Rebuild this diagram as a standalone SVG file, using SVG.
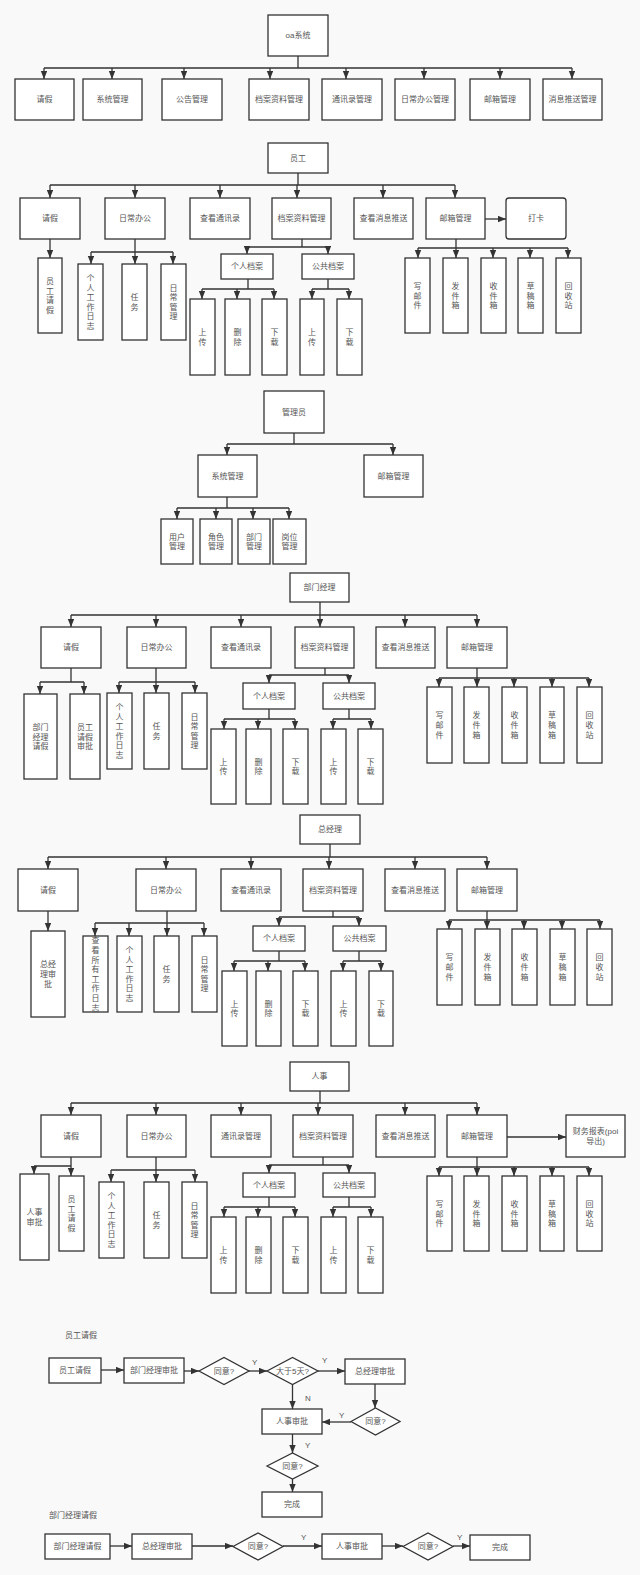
<svg xmlns="http://www.w3.org/2000/svg" width="640" height="1575" viewBox="0 0 640 1575">
<style>
.b{fill:#fff;stroke:#333;stroke-width:1.3}
.t{font-family:"Liberation Sans","Noto Sans CJK SC",sans-serif;font-size:8px;fill:#555;text-anchor:middle;dominant-baseline:central}
.l{font-family:"Liberation Sans","Noto Sans CJK SC",sans-serif;font-size:8px;fill:#555;dominant-baseline:central}
.c{fill:none;stroke:#333;stroke-width:1.3}
.a{fill:none;stroke:#333;stroke-width:1.3;marker-end:url(#ar)}
</style>
<defs>
<marker id="ar" markerWidth="8" markerHeight="7" refX="8" refY="3.2" orient="auto" markerUnits="userSpaceOnUse"><path d="M0,0 L8,3.2 L0,6.4 z" fill="#333"/></marker>
</defs>
<rect x="0" y="0" width="640" height="1575" fill="#f9f9f9"/>

<g id="connectors">
<!-- section 1 -->
<path class="c" d="M298,56 V68 M44,68 H572"/>
<path class="a" d="M44,68 V79"/><path class="a" d="M112,68 V79"/><path class="a" d="M184,68 V79"/><path class="a" d="M270,68 V79"/>
<path class="a" d="M346,68 V79"/><path class="a" d="M424,68 V79"/><path class="a" d="M500,68 V79"/><path class="a" d="M572,68 V79"/>
<!-- section 2 -->
<path class="c" d="M298,173 V185 M50,185 H455"/>
<path class="a" d="M50,185 V198"/><path class="a" d="M135,185 V198"/><path class="a" d="M220,185 V198"/><path class="a" d="M297,185 V198"/><path class="a" d="M383,185 V198"/><path class="a" d="M455,185 V198"/>
<path class="a" d="M485,219 H506"/>
<path class="a" d="M50,239 V258"/>
<path class="c" d="M135,239 V252 M91,252 H173"/>
<path class="a" d="M91,252 V264"/><path class="a" d="M135,252 V264"/><path class="a" d="M173,252 V264"/>
<path class="c" d="M302,239 V247 M247,247 H328"/>
<path class="a" d="M247,247 V254"/><path class="a" d="M328,247 V254"/>
<path class="c" d="M248,279 V289 M202,289 H274"/>
<path class="a" d="M202,289 V299"/><path class="a" d="M237,289 V299"/><path class="a" d="M274,289 V299"/>
<path class="c" d="M328,279 V289 M312,289 H349"/>
<path class="a" d="M312,289 V299"/><path class="a" d="M349,289 V299"/>
<path class="c" d="M456,239 V248 M418,248 H568"/>
<path class="a" d="M418,248 V258"/><path class="a" d="M456,248 V258"/><path class="a" d="M493,248 V258"/><path class="a" d="M530,248 V258"/><path class="a" d="M568,248 V258"/>
<!-- section 3 -->
<path class="c" d="M294,433 V444 M227,444 H393"/>
<path class="a" d="M227,444 V455"/><path class="a" d="M393,444 V455"/>
<path class="c" d="M227,497 V508 M177,508 H289"/>
<path class="a" d="M177,508 V519"/><path class="a" d="M216,508 V519"/><path class="a" d="M253,508 V519"/><path class="a" d="M289,508 V519"/>
<!-- section 4 -->
<path class="c" d="M320,602 V615 M71,615 H477"/>
<path class="a" d="M71,615 V627"/><path class="a" d="M156,615 V627"/><path class="a" d="M241,615 V627"/><path class="a" d="M320,615 V627"/><path class="a" d="M405,615 V627"/><path class="a" d="M477,615 V627"/>
<path class="c" d="M71,668 V682 M40,682 H84"/>
<path class="a" d="M40,682 V694"/><path class="a" d="M84,682 V694"/>
<path class="c" d="M156,668 V682 M119,682 H195"/>
<path class="a" d="M119,682 V693"/><path class="a" d="M156,682 V693"/><path class="a" d="M195,682 V693"/>
<path class="c" d="M325,668 V675 M269,675 H349"/>
<path class="a" d="M269,675 V683"/><path class="a" d="M349,675 V683"/>
<path class="c" d="M269,709 V719 M224,719 H295"/>
<path class="a" d="M224,719 V729"/><path class="a" d="M258,719 V729"/><path class="a" d="M295,719 V729"/>
<path class="c" d="M349,709 V719 M333,719 H371"/>
<path class="a" d="M333,719 V729"/><path class="a" d="M371,719 V729"/>
<path class="c" d="M477,668 V678 M439,678 H589"/>
<path class="a" d="M439,678 V687"/><path class="a" d="M477,678 V687"/><path class="a" d="M514,678 V687"/><path class="a" d="M552,678 V687"/><path class="a" d="M589,678 V687"/>
<!-- section 5 -->
<path class="c" d="M330,844 V857 M48,857 H487"/>
<path class="a" d="M48,857 V869"/><path class="a" d="M166,857 V869"/><path class="a" d="M251,857 V869"/><path class="a" d="M329,857 V869"/><path class="a" d="M415,857 V869"/><path class="a" d="M487,857 V869"/>
<path class="a" d="M48,911 V931"/>
<path class="c" d="M167,911 V923 M95,923 H204"/>
<path class="a" d="M95,923 V936"/><path class="a" d="M129,923 V936"/><path class="a" d="M167,923 V936"/><path class="a" d="M204,923 V936"/>
<path class="c" d="M333,911 V917 M279,917 H359"/>
<path class="a" d="M279,917 V926"/><path class="a" d="M359,917 V926"/>
<path class="c" d="M279,951 V961 M234,961 H305"/>
<path class="a" d="M234,961 V971"/><path class="a" d="M268,961 V971"/><path class="a" d="M305,961 V971"/>
<path class="c" d="M359,951 V961 M343,961 H381"/>
<path class="a" d="M343,961 V971"/><path class="a" d="M381,961 V971"/>
<path class="c" d="M487,911 V920 M449,920 H600"/>
<path class="a" d="M449,920 V929"/><path class="a" d="M487,920 V929"/><path class="a" d="M524,920 V929"/><path class="a" d="M562,920 V929"/><path class="a" d="M600,920 V929"/>
<!-- section 6 -->
<path class="c" d="M320,1091 V1103 M71,1103 H477"/>
<path class="a" d="M71,1103 V1115"/><path class="a" d="M156,1103 V1115"/><path class="a" d="M241,1103 V1115"/><path class="a" d="M318,1103 V1115"/><path class="a" d="M405,1103 V1115"/><path class="a" d="M477,1103 V1115"/>
<path class="a" d="M507,1137 H566"/>
<path class="c" d="M71,1157 V1166 M34,1166 H71"/>
<path class="a" d="M34,1166 V1174"/><path class="a" d="M71,1166 V1176"/>
<path class="c" d="M156,1157 V1170 M111,1170 H195"/>
<path class="a" d="M111,1170 V1182"/><path class="a" d="M156,1170 V1182"/><path class="a" d="M195,1170 V1182"/>
<path class="c" d="M323,1157 V1165 M269,1165 H349"/>
<path class="a" d="M269,1165 V1173"/><path class="a" d="M349,1165 V1173"/>
<path class="c" d="M269,1197 V1207 M224,1207 H295"/>
<path class="a" d="M224,1207 V1217"/><path class="a" d="M258,1207 V1217"/><path class="a" d="M295,1207 V1217"/>
<path class="c" d="M349,1197 V1207 M333,1207 H371"/>
<path class="a" d="M333,1207 V1217"/><path class="a" d="M371,1207 V1217"/>
<path class="c" d="M477,1157 V1167 M439,1167 H589"/>
<path class="a" d="M439,1167 V1176"/><path class="a" d="M477,1167 V1176"/><path class="a" d="M514,1167 V1176"/><path class="a" d="M552,1167 V1176"/><path class="a" d="M589,1167 V1176"/>
<!-- flow 1 -->
<path class="a" d="M101,1370 H124"/>
<path class="a" d="M184,1371 H199"/>
<path class="a" d="M249,1371 H267"/>
<path class="a" d="M318,1371 H345"/>
<path class="a" d="M375,1384 V1408"/>
<path class="a" d="M351,1422 H322"/>
<path class="a" d="M292.5,1384.5 V1409"/>
<path class="a" d="M292.5,1434 V1453"/>
<path class="a" d="M292.5,1479 V1492"/>
<!-- flow 2 -->
<path class="a" d="M110,1546 H132"/>
<path class="a" d="M192,1546 H233"/>
<path class="a" d="M283,1546 H322"/>
<path class="a" d="M382,1546 H403"/>
<path class="a" d="M453,1546 H470"/>
</g>

<!-- labels -->
<g id="edge-labels">
<text class="l" x="252" y="1362">Y</text>
<text class="l" x="322" y="1360">Y</text>
<text class="l" x="339" y="1415">Y</text>
<text class="l" x="305" y="1398">N</text>
<text class="l" x="305" y="1445">Y</text>
<text class="l" x="301" y="1537">Y</text>
<text class="l" x="457" y="1537">Y</text>
</g>

<!-- Section 1 -->
<g id="s1-root"><rect class="b" x="268" y="15" width="60" height="41"/><text class="t" x="298" y="35.5">oa系统</text></g>
<g id="s1-qj"><rect class="b" x="15" y="79" width="59" height="41"/><text class="t" x="44.5" y="99.5">请假</text></g>
<g id="s1-xt"><rect class="b" x="83" y="79" width="59" height="41"/><text class="t" x="112.5" y="99.5">系统管理</text></g>
<g id="s1-gg"><rect class="b" x="162" y="79" width="60" height="41"/><text class="t" x="192" y="99.5">公告管理</text></g>
<g id="s1-da"><rect class="b" x="249" y="79" width="60" height="41"/><text class="t" x="279" y="99.5">档案资料管理</text></g>
<g id="s1-tx"><rect class="b" x="322" y="79" width="60" height="41"/><text class="t" x="352" y="99.5">通讯录管理</text></g>
<g id="s1-rc"><rect class="b" x="395" y="79" width="60" height="41"/><text class="t" x="425" y="99.5">日常办公管理</text></g>
<g id="s1-yx"><rect class="b" x="470" y="79" width="60" height="41"/><text class="t" x="500" y="99.5">邮箱管理</text></g>
<g id="s1-xx"><rect class="b" x="543" y="79" width="59" height="41"/><text class="t" x="572.5" y="99.5">消息推送管理</text></g>

<!-- Section 2 -->
<g id="s2-root"><rect class="b" x="268" y="143" width="60" height="30"/><text class="t" x="298" y="158">员工</text></g>
<g id="s2-qj"><rect class="b" x="20" y="198" width="60" height="41"/><text class="t" x="50" y="218.5">请假</text></g>
<g id="s2-rc"><rect class="b" x="105" y="198" width="60" height="41"/><text class="t" x="135" y="218.5">日常办公</text></g>
<g id="s2-tx"><rect class="b" x="190" y="198" width="60" height="41"/><text class="t" x="220" y="218.5">查看通讯录</text></g>
<g id="s2-da"><rect class="b" x="272" y="198" width="59" height="41"/><text class="t" x="301.5" y="218.5">档案资料管理</text></g>
<g id="s2-xx"><rect class="b" x="354" y="198" width="59" height="41"/><text class="t" x="383.5" y="218.5">查看消息推送</text></g>
<g id="s2-yx"><rect class="b" x="426" y="198" width="59" height="41"/><text class="t" x="455.5" y="218.5">邮箱管理</text></g>
<g id="s2-dk"><rect class="b" x="506" y="198" width="60" height="41" rx="3"/><text class="t" x="536" y="218.5">打卡</text></g>
<g id="s2-ygqj"><rect class="b" x="38" y="258" width="24" height="75"/><text class="t"><tspan x="50" y="281.1">员</tspan><tspan x="50" dy="9.6">工</tspan><tspan x="50" dy="9.6">请</tspan><tspan x="50" dy="9.6">假</tspan></text></g>
<g id="s2-rz"><rect class="b" x="78" y="264" width="25" height="76"/><text class="t"><tspan x="90.5" y="278">个</tspan><tspan x="90.5" dy="9.6">人</tspan><tspan x="90.5" dy="9.6">工</tspan><tspan x="90.5" dy="9.6">作</tspan><tspan x="90.5" dy="9.6">日</tspan><tspan x="90.5" dy="9.6">志</tspan></text></g>
<g id="s2-rw"><rect class="b" x="122" y="264" width="25" height="76"/><text class="t"><tspan x="134.5" y="297.2">任</tspan><tspan x="134.5" dy="9.6">务</tspan></text></g>
<g id="s2-rcgl"><rect class="b" x="161" y="264" width="25" height="76"/><text class="t"><tspan x="173.5" y="287.6">日</tspan><tspan x="173.5" dy="9.6">常</tspan><tspan x="173.5" dy="9.6">管</tspan><tspan x="173.5" dy="9.6">理</tspan></text></g>
<g id="s2-gr"><rect class="b" x="221" y="254" width="52" height="25"/><text class="t" x="247" y="266.5">个人档案</text></g>
<g id="s2-gk"><rect class="b" x="302" y="254" width="52" height="25"/><text class="t" x="328" y="266.5">公共档案</text></g>
<g id="s2-sc1"><rect class="b" x="190" y="299" width="25" height="76"/><text class="t"><tspan x="202.5" y="332.2">上</tspan><tspan x="202.5" dy="9.6">传</tspan></text></g>
<g id="s2-del"><rect class="b" x="225" y="299" width="25" height="76"/><text class="t"><tspan x="237.5" y="332.2">删</tspan><tspan x="237.5" dy="9.6">除</tspan></text></g>
<g id="s2-xz1"><rect class="b" x="262" y="299" width="25" height="76"/><text class="t"><tspan x="274.5" y="332.2">下</tspan><tspan x="274.5" dy="9.6">载</tspan></text></g>
<g id="s2-sc2"><rect class="b" x="300" y="299" width="24" height="76"/><text class="t"><tspan x="312" y="332.2">上</tspan><tspan x="312" dy="9.6">传</tspan></text></g>
<g id="s2-xz2"><rect class="b" x="337" y="299" width="25" height="76"/><text class="t"><tspan x="349.5" y="332.2">下</tspan><tspan x="349.5" dy="9.6">载</tspan></text></g>
<g id="s2-xyj"><rect class="b" x="405" y="258" width="25" height="75"/><text class="t"><tspan x="417.5" y="285.9">写</tspan><tspan x="417.5" dy="9.6">邮</tspan><tspan x="417.5" dy="9.6">件</tspan></text></g>
<g id="s2-fjx"><rect class="b" x="443" y="258" width="25" height="75"/><text class="t"><tspan x="455.5" y="285.9">发</tspan><tspan x="455.5" dy="9.6">件</tspan><tspan x="455.5" dy="9.6">箱</tspan></text></g>
<g id="s2-sjx"><rect class="b" x="481" y="258" width="25" height="75"/><text class="t"><tspan x="493.5" y="285.9">收</tspan><tspan x="493.5" dy="9.6">件</tspan><tspan x="493.5" dy="9.6">箱</tspan></text></g>
<g id="s2-cgx"><rect class="b" x="518" y="258" width="25" height="75"/><text class="t"><tspan x="530.5" y="285.9">草</tspan><tspan x="530.5" dy="9.6">稿</tspan><tspan x="530.5" dy="9.6">箱</tspan></text></g>
<g id="s2-hsz"><rect class="b" x="556" y="258" width="25" height="75"/><text class="t"><tspan x="568.5" y="285.9">回</tspan><tspan x="568.5" dy="9.6">收</tspan><tspan x="568.5" dy="9.6">站</tspan></text></g>

<!-- Section 3 -->
<g id="s3-root"><rect class="b" x="264" y="391" width="60" height="42"/><text class="t" x="294" y="412">管理员</text></g>
<g id="s3-xt"><rect class="b" x="198" y="455" width="59" height="42"/><text class="t" x="227.5" y="476">系统管理</text></g>
<g id="s3-yx"><rect class="b" x="364" y="455" width="59" height="42"/><text class="t" x="393.5" y="476">邮箱管理</text></g>
<g id="s3-yh"><rect class="b" x="161" y="519" width="32" height="45"/><text class="t"><tspan x="177" y="536.7">用户</tspan><tspan x="177" dy="9.6">管理</tspan></text></g>
<g id="s3-js"><rect class="b" x="200" y="519" width="32" height="45"/><text class="t"><tspan x="216" y="536.7">角色</tspan><tspan x="216" dy="9.6">管理</tspan></text></g>
<g id="s3-bm"><rect class="b" x="238" y="519" width="32" height="45"/><text class="t"><tspan x="254" y="536.7">部门</tspan><tspan x="254" dy="9.6">管理</tspan></text></g>
<g id="s3-gw"><rect class="b" x="273" y="519" width="33" height="45"/><text class="t"><tspan x="289.5" y="536.7">岗位</tspan><tspan x="289.5" dy="9.6">管理</tspan></text></g>

<!-- Section 4 -->
<g id="s4-root"><rect class="b" x="290" y="573" width="59" height="29"/><text class="t" x="319.5" y="587.5">部门经理</text></g>
<g id="s4-qj"><rect class="b" x="41" y="627" width="60" height="41"/><text class="t" x="71" y="647.5">请假</text></g>
<g id="s4-rc"><rect class="b" x="127" y="627" width="59" height="41"/><text class="t" x="156.5" y="647.5">日常办公</text></g>
<g id="s4-tx"><rect class="b" x="211" y="627" width="60" height="41"/><text class="t" x="241" y="647.5">查看通讯录</text></g>
<g id="s4-da"><rect class="b" x="295" y="627" width="59" height="41"/><text class="t" x="324.5" y="647.5">档案资料管理</text></g>
<g id="s4-xx"><rect class="b" x="376" y="627" width="59" height="41"/><text class="t" x="405.5" y="647.5">查看消息推送</text></g>
<g id="s4-yx"><rect class="b" x="447" y="627" width="60" height="41"/><text class="t" x="477" y="647.5">邮箱管理</text></g>
<g id="s4-bmqj"><rect class="b" x="24" y="694" width="33" height="85"/><text class="t"><tspan x="40.5" y="726.9">部门</tspan><tspan x="40.5" dy="9.6">经理</tspan><tspan x="40.5" dy="9.6">请假</tspan></text></g>
<g id="s4-ygsp"><rect class="b" x="70" y="694" width="30" height="85"/><text class="t"><tspan x="85" y="726.9">员工</tspan><tspan x="85" dy="9.6">请假</tspan><tspan x="85" dy="9.6">审批</tspan></text></g>
<g id="s4-rz"><rect class="b" x="107" y="693" width="25" height="76"/><text class="t"><tspan x="119.5" y="707">个</tspan><tspan x="119.5" dy="9.6">人</tspan><tspan x="119.5" dy="9.6">工</tspan><tspan x="119.5" dy="9.6">作</tspan><tspan x="119.5" dy="9.6">日</tspan><tspan x="119.5" dy="9.6">志</tspan></text></g>
<g id="s4-rw"><rect class="b" x="144" y="693" width="25" height="76"/><text class="t"><tspan x="156.5" y="726.2">任</tspan><tspan x="156.5" dy="9.6">务</tspan></text></g>
<g id="s4-rcgl"><rect class="b" x="182" y="693" width="25" height="76"/><text class="t"><tspan x="194.5" y="716.6">日</tspan><tspan x="194.5" dy="9.6">常</tspan><tspan x="194.5" dy="9.6">管</tspan><tspan x="194.5" dy="9.6">理</tspan></text></g>
<g id="s4-gr"><rect class="b" x="243" y="683" width="52" height="26"/><text class="t" x="269" y="696">个人档案</text></g>
<g id="s4-gk"><rect class="b" x="323" y="683" width="52" height="26"/><text class="t" x="349" y="696">公共档案</text></g>
<g id="s4-sc1"><rect class="b" x="211" y="729" width="25" height="75"/><text class="t"><tspan x="223.5" y="761.7">上</tspan><tspan x="223.5" dy="9.6">传</tspan></text></g>
<g id="s4-del"><rect class="b" x="246" y="729" width="25" height="75"/><text class="t"><tspan x="258.5" y="761.7">删</tspan><tspan x="258.5" dy="9.6">除</tspan></text></g>
<g id="s4-xz1"><rect class="b" x="283" y="729" width="25" height="75"/><text class="t"><tspan x="295.5" y="761.7">下</tspan><tspan x="295.5" dy="9.6">载</tspan></text></g>
<g id="s4-sc2"><rect class="b" x="321" y="729" width="25" height="75"/><text class="t"><tspan x="333.5" y="761.7">上</tspan><tspan x="333.5" dy="9.6">传</tspan></text></g>
<g id="s4-xz2"><rect class="b" x="358" y="729" width="25" height="75"/><text class="t"><tspan x="370.5" y="761.7">下</tspan><tspan x="370.5" dy="9.6">载</tspan></text></g>
<g id="s4-xyj"><rect class="b" x="427" y="687" width="25" height="76"/><text class="t"><tspan x="439.5" y="715.4">写</tspan><tspan x="439.5" dy="9.6">邮</tspan><tspan x="439.5" dy="9.6">件</tspan></text></g>
<g id="s4-fjx"><rect class="b" x="464" y="687" width="25" height="76"/><text class="t"><tspan x="476.5" y="715.4">发</tspan><tspan x="476.5" dy="9.6">件</tspan><tspan x="476.5" dy="9.6">箱</tspan></text></g>
<g id="s4-sjx"><rect class="b" x="502" y="687" width="25" height="76"/><text class="t"><tspan x="514.5" y="715.4">收</tspan><tspan x="514.5" dy="9.6">件</tspan><tspan x="514.5" dy="9.6">箱</tspan></text></g>
<g id="s4-cgx"><rect class="b" x="540" y="687" width="24" height="76"/><text class="t"><tspan x="552" y="715.4">草</tspan><tspan x="552" dy="9.6">稿</tspan><tspan x="552" dy="9.6">箱</tspan></text></g>
<g id="s4-hsz"><rect class="b" x="577" y="687" width="25" height="76"/><text class="t"><tspan x="589.5" y="715.4">回</tspan><tspan x="589.5" dy="9.6">收</tspan><tspan x="589.5" dy="9.6">站</tspan></text></g>

<!-- Section 5 -->
<g id="s5-root"><rect class="b" x="300" y="815" width="60" height="29"/><text class="t" x="330" y="829.5">总经理</text></g>
<g id="s5-qj"><rect class="b" x="18" y="869" width="60" height="42"/><text class="t" x="48" y="890">请假</text></g>
<g id="s5-rc"><rect class="b" x="136" y="869" width="60" height="42"/><text class="t" x="166" y="890">日常办公</text></g>
<g id="s5-tx"><rect class="b" x="221" y="869" width="60" height="42"/><text class="t" x="251" y="890">查看通讯录</text></g>
<g id="s5-da"><rect class="b" x="303" y="869" width="60" height="42"/><text class="t" x="333" y="890">档案资料管理</text></g>
<g id="s5-xx"><rect class="b" x="385" y="869" width="60" height="42"/><text class="t" x="415" y="890">查看消息推送</text></g>
<g id="s5-yx"><rect class="b" x="457" y="869" width="60" height="42"/><text class="t" x="487" y="890">邮箱管理</text></g>
<g id="s5-zjl"><rect class="b" x="31" y="931" width="34" height="86"/><text class="t"><tspan x="48" y="964.4">总经</tspan><tspan x="48" dy="9.6">理审</tspan><tspan x="48" dy="9.6">批</tspan></text></g>
<g id="s5-cksy"><rect class="b" x="83" y="936" width="25" height="76"/><text class="t"><tspan x="95.5" y="940.4">查</tspan><tspan x="95.5" dy="9.6">看</tspan><tspan x="95.5" dy="9.6">所</tspan><tspan x="95.5" dy="9.6">有</tspan><tspan x="95.5" dy="9.6">工</tspan><tspan x="95.5" dy="9.6">作</tspan><tspan x="95.5" dy="9.6">日</tspan><tspan x="95.5" dy="9.6">志</tspan></text></g>
<g id="s5-rz"><rect class="b" x="117" y="936" width="25" height="76"/><text class="t"><tspan x="129.5" y="950">个</tspan><tspan x="129.5" dy="9.6">人</tspan><tspan x="129.5" dy="9.6">工</tspan><tspan x="129.5" dy="9.6">作</tspan><tspan x="129.5" dy="9.6">日</tspan><tspan x="129.5" dy="9.6">志</tspan></text></g>
<g id="s5-rw"><rect class="b" x="154" y="936" width="25" height="76"/><text class="t"><tspan x="166.5" y="969.2">任</tspan><tspan x="166.5" dy="9.6">务</tspan></text></g>
<g id="s5-rcgl"><rect class="b" x="192" y="936" width="25" height="76"/><text class="t"><tspan x="204.5" y="959.6">日</tspan><tspan x="204.5" dy="9.6">常</tspan><tspan x="204.5" dy="9.6">管</tspan><tspan x="204.5" dy="9.6">理</tspan></text></g>
<g id="s5-gr"><rect class="b" x="253" y="926" width="52" height="25"/><text class="t" x="279" y="938.5">个人档案</text></g>
<g id="s5-gk"><rect class="b" x="333" y="926" width="53" height="25"/><text class="t" x="359.5" y="938.5">公共档案</text></g>
<g id="s5-sc1"><rect class="b" x="222" y="971" width="25" height="75"/><text class="t"><tspan x="234.5" y="1003.7">上</tspan><tspan x="234.5" dy="9.6">传</tspan></text></g>
<g id="s5-del"><rect class="b" x="256" y="971" width="25" height="75"/><text class="t"><tspan x="268.5" y="1003.7">删</tspan><tspan x="268.5" dy="9.6">除</tspan></text></g>
<g id="s5-xz1"><rect class="b" x="293" y="971" width="25" height="75"/><text class="t"><tspan x="305.5" y="1003.7">下</tspan><tspan x="305.5" dy="9.6">载</tspan></text></g>
<g id="s5-sc2"><rect class="b" x="331" y="971" width="25" height="75"/><text class="t"><tspan x="343.5" y="1003.7">上</tspan><tspan x="343.5" dy="9.6">传</tspan></text></g>
<g id="s5-xz2"><rect class="b" x="369" y="971" width="24" height="75"/><text class="t"><tspan x="381" y="1003.7">下</tspan><tspan x="381" dy="9.6">载</tspan></text></g>
<g id="s5-xyj"><rect class="b" x="437" y="929" width="25" height="76"/><text class="t"><tspan x="449.5" y="957.4">写</tspan><tspan x="449.5" dy="9.6">邮</tspan><tspan x="449.5" dy="9.6">件</tspan></text></g>
<g id="s5-fjx"><rect class="b" x="475" y="929" width="25" height="76"/><text class="t"><tspan x="487.5" y="957.4">发</tspan><tspan x="487.5" dy="9.6">件</tspan><tspan x="487.5" dy="9.6">箱</tspan></text></g>
<g id="s5-sjx"><rect class="b" x="512" y="929" width="25" height="76"/><text class="t"><tspan x="524.5" y="957.4">收</tspan><tspan x="524.5" dy="9.6">件</tspan><tspan x="524.5" dy="9.6">箱</tspan></text></g>
<g id="s5-cgx"><rect class="b" x="550" y="929" width="25" height="76"/><text class="t"><tspan x="562.5" y="957.4">草</tspan><tspan x="562.5" dy="9.6">稿</tspan><tspan x="562.5" dy="9.6">箱</tspan></text></g>
<g id="s5-hsz"><rect class="b" x="587" y="929" width="25" height="76"/><text class="t"><tspan x="599.5" y="957.4">回</tspan><tspan x="599.5" dy="9.6">收</tspan><tspan x="599.5" dy="9.6">站</tspan></text></g>

<!-- Section 6 -->
<g id="s6-root"><rect class="b" x="290" y="1062" width="59" height="29"/><text class="t" x="319.5" y="1076.5">人事</text></g>
<g id="s6-qj"><rect class="b" x="41" y="1115" width="60" height="42"/><text class="t" x="71" y="1136">请假</text></g>
<g id="s6-rc"><rect class="b" x="127" y="1115" width="59" height="42"/><text class="t" x="156.5" y="1136">日常办公</text></g>
<g id="s6-tx"><rect class="b" x="211" y="1115" width="60" height="42"/><text class="t" x="241" y="1136">通讯录管理</text></g>
<g id="s6-da"><rect class="b" x="293" y="1115" width="60" height="42"/><text class="t" x="323" y="1136">档案资料管理</text></g>
<g id="s6-xx"><rect class="b" x="376" y="1115" width="59" height="42"/><text class="t" x="405.5" y="1136">查看消息推送</text></g>
<g id="s6-yx"><rect class="b" x="447" y="1115" width="60" height="42"/><text class="t" x="477" y="1136">邮箱管理</text></g>
<g id="s6-cw"><rect class="b" x="566" y="1115" width="59" height="42"/><text class="t"><tspan x="595.5" y="1131.2">财务报表(poi</tspan><tspan x="595.5" dy="9.6">导出)</tspan></text></g>
<g id="s6-rssp"><rect class="b" x="20" y="1174" width="29" height="86"/><text class="t"><tspan x="34.5" y="1212.2">人事</tspan><tspan x="34.5" dy="9.6">审批</tspan></text></g>
<g id="s6-ygqj"><rect class="b" x="59" y="1176" width="25" height="75"/><text class="t"><tspan x="71.5" y="1199.1">员</tspan><tspan x="71.5" dy="9.6">工</tspan><tspan x="71.5" dy="9.6">请</tspan><tspan x="71.5" dy="9.6">假</tspan></text></g>
<g id="s6-rz"><rect class="b" x="99" y="1182" width="25" height="76"/><text class="t"><tspan x="111.5" y="1196">个</tspan><tspan x="111.5" dy="9.6">人</tspan><tspan x="111.5" dy="9.6">工</tspan><tspan x="111.5" dy="9.6">作</tspan><tspan x="111.5" dy="9.6">日</tspan><tspan x="111.5" dy="9.6">志</tspan></text></g>
<g id="s6-rw"><rect class="b" x="144" y="1182" width="25" height="76"/><text class="t"><tspan x="156.5" y="1215.2">任</tspan><tspan x="156.5" dy="9.6">务</tspan></text></g>
<g id="s6-rcgl"><rect class="b" x="182" y="1182" width="25" height="76"/><text class="t"><tspan x="194.5" y="1205.6">日</tspan><tspan x="194.5" dy="9.6">常</tspan><tspan x="194.5" dy="9.6">管</tspan><tspan x="194.5" dy="9.6">理</tspan></text></g>
<g id="s6-gr"><rect class="b" x="243" y="1173" width="52" height="24"/><text class="t" x="269" y="1185">个人档案</text></g>
<g id="s6-gk"><rect class="b" x="323" y="1173" width="52" height="24"/><text class="t" x="349" y="1185">公共档案</text></g>
<g id="s6-sc1"><rect class="b" x="211" y="1217" width="25" height="76"/><text class="t"><tspan x="223.5" y="1250.2">上</tspan><tspan x="223.5" dy="9.6">传</tspan></text></g>
<g id="s6-del"><rect class="b" x="246" y="1217" width="25" height="76"/><text class="t"><tspan x="258.5" y="1250.2">删</tspan><tspan x="258.5" dy="9.6">除</tspan></text></g>
<g id="s6-xz1"><rect class="b" x="283" y="1217" width="25" height="76"/><text class="t"><tspan x="295.5" y="1250.2">下</tspan><tspan x="295.5" dy="9.6">载</tspan></text></g>
<g id="s6-sc2"><rect class="b" x="321" y="1217" width="25" height="76"/><text class="t"><tspan x="333.5" y="1250.2">上</tspan><tspan x="333.5" dy="9.6">传</tspan></text></g>
<g id="s6-xz2"><rect class="b" x="358" y="1217" width="25" height="76"/><text class="t"><tspan x="370.5" y="1250.2">下</tspan><tspan x="370.5" dy="9.6">载</tspan></text></g>
<g id="s6-xyj"><rect class="b" x="427" y="1176" width="25" height="75"/><text class="t"><tspan x="439.5" y="1203.9">写</tspan><tspan x="439.5" dy="9.6">邮</tspan><tspan x="439.5" dy="9.6">件</tspan></text></g>
<g id="s6-fjx"><rect class="b" x="464" y="1176" width="25" height="75"/><text class="t"><tspan x="476.5" y="1203.9">发</tspan><tspan x="476.5" dy="9.6">件</tspan><tspan x="476.5" dy="9.6">箱</tspan></text></g>
<g id="s6-sjx"><rect class="b" x="502" y="1176" width="25" height="75"/><text class="t"><tspan x="514.5" y="1203.9">收</tspan><tspan x="514.5" dy="9.6">件</tspan><tspan x="514.5" dy="9.6">箱</tspan></text></g>
<g id="s6-cgx"><rect class="b" x="540" y="1176" width="24" height="75"/><text class="t"><tspan x="552" y="1203.9">草</tspan><tspan x="552" dy="9.6">稿</tspan><tspan x="552" dy="9.6">箱</tspan></text></g>
<g id="s6-hsz"><rect class="b" x="577" y="1176" width="25" height="75"/><text class="t"><tspan x="589.5" y="1203.9">回</tspan><tspan x="589.5" dy="9.6">收</tspan><tspan x="589.5" dy="9.6">站</tspan></text></g>

<!-- Flow 1 -->
<g id="f1-title"><text class="l" x="65" y="1335">员工请假</text></g>
<g id="f1-ygqj"><rect class="b" x="49" y="1358" width="52" height="25"/><text class="t" x="75" y="1370.5">员工请假</text></g>
<g id="f1-bmsp"><rect class="b" x="124" y="1358" width="60" height="25"/><text class="t" x="154" y="1370.5">部门经理审批</text></g>
<g id="f1-ty1"><polygon class="b" points="199,1371 224,1357.5 249,1371 224,1384.5"/><text class="t" x="224" y="1371">同意?</text></g>
<g id="f1-dy5"><polygon class="b" points="267,1371 292.5,1357.5 318,1371 292.5,1384.5"/><text class="t" x="292.5" y="1371">大于5天?</text></g>
<g id="f1-zjl"><rect class="b" x="345" y="1359" width="60" height="25"/><text class="t" x="375" y="1371.5">总经理审批</text></g>
<g id="f1-ty2"><polygon class="b" points="351,1421.5 375.5,1408 400,1421.5 375.5,1435"/><text class="t" x="375.5" y="1421.5">同意?</text></g>
<g id="f1-rssp"><rect class="b" x="262" y="1409" width="60" height="25"/><text class="t" x="292" y="1421.5">人事审批</text></g>
<g id="f1-ty3"><polygon class="b" points="267,1466 292.5,1453 318,1466 292.5,1479"/><text class="t" x="292.5" y="1466">同意?</text></g>
<g id="f1-wc"><rect class="b" x="262" y="1492" width="60" height="25"/><text class="t" x="292" y="1504.5">完成</text></g>

<!-- Flow 2 -->
<g id="f2-title"><text class="l" x="49" y="1515">部门经理请假</text></g>
<g id="f2-bmqj"><rect class="b" x="45" y="1534" width="65" height="25"/><text class="t" x="77.5" y="1546.5">部门经理请假</text></g>
<g id="f2-zjl"><rect class="b" x="132" y="1534" width="60" height="25"/><text class="t" x="162" y="1546.5">总经理审批</text></g>
<g id="f2-ty1"><polygon class="b" points="233,1546.5 258,1533 283,1546.5 258,1560"/><text class="t" x="258" y="1546.5">同意?</text></g>
<g id="f2-rssp"><rect class="b" x="322" y="1534" width="60" height="25"/><text class="t" x="352" y="1546.5">人事审批</text></g>
<g id="f2-ty2"><polygon class="b" points="403,1546.5 428,1533 453,1546.5 428,1560"/><text class="t" x="428" y="1546.5">同意?</text></g>
<g id="f2-wc"><rect class="b" x="470" y="1535" width="60" height="25"/><text class="t" x="500" y="1547.5">完成</text></g>
</svg>
